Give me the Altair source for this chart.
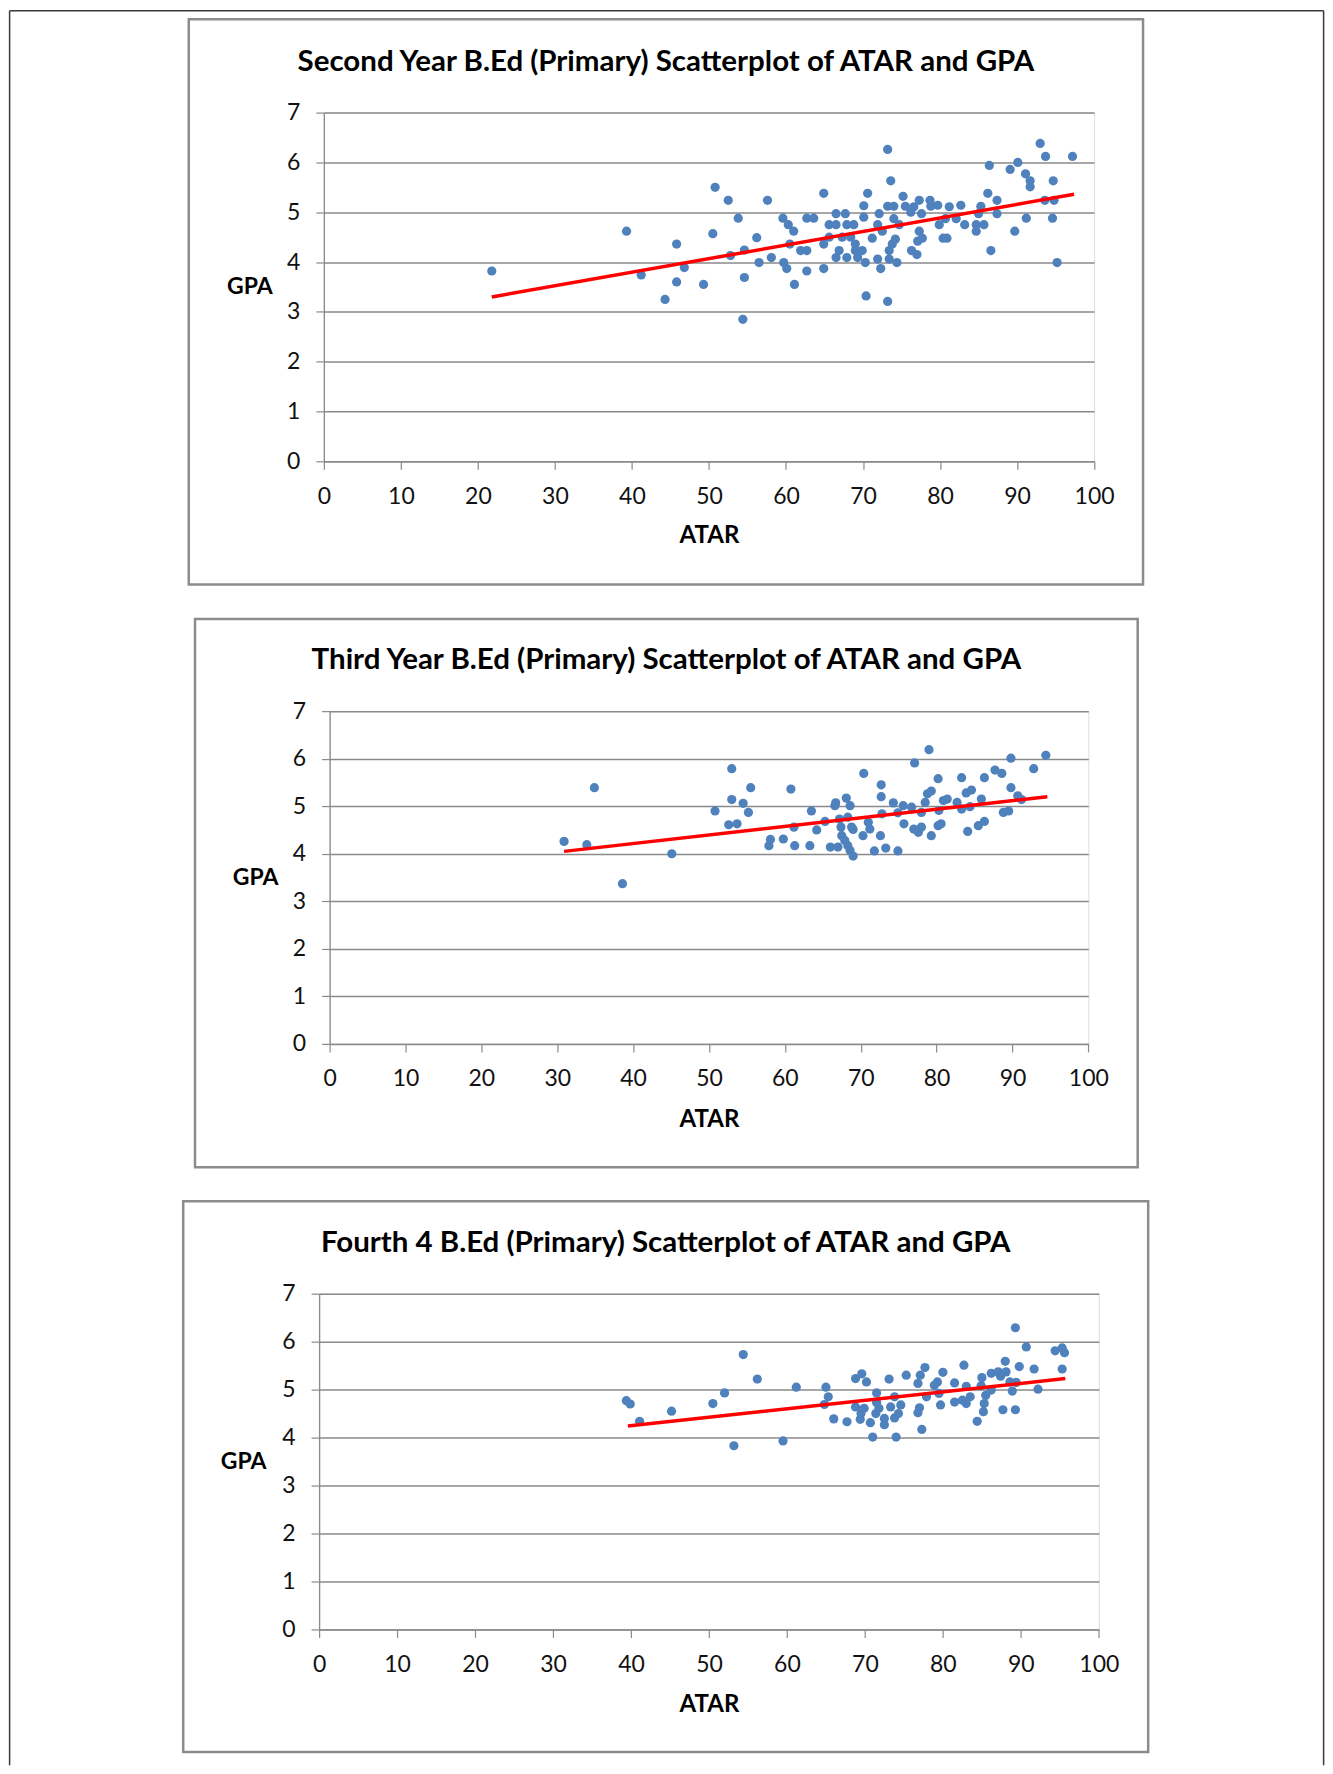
import altair as alt
import pandas as pd

FONT = "Lato"

# ---------------- data ----------------
titles = [
    "Second Year B.Ed (Primary) Scatterplot of ATAR and GPA",
    "Third Year B.Ed (Primary) Scatterplot of ATAR and GPA",
    "Fourth 4 B.Ed (Primary) Scatterplot of ATAR and GPA",
]

x_ticks = list(range(0, 101, 10))
y_ticks = list(range(0, 8))

# Panel 1 – second year
p1_atar = [21.8, 39.3, 41.2, 45.8, 46.8, 45.8, 44.3, 49.3, 50.5, 50.8,
           52.5, 52.8, 53.8, 54.6, 54.6, 54.4, 56.2, 56.5, 57.6, 58.1,
           59.6, 60.3, 61.0, 59.7, 60.1, 61.1, 60.5, 61.9, 62.7, 62.7,
           63.6, 62.7, 64.9, 64.9, 64.9, 65.6, 65.6, 66.5, 66.5, 66.5,
           66.9, 67.3, 67.7, 67.9, 67.9, 68.8, 68.4, 69.0, 69.0, 69.9,
           69.3, 70.3, 70.1, 70.1, 70.6, 70.4, 71.2, 71.9, 72.1, 71.9,
           72.3, 72.5, 73.2, 73.2, 73.6, 73.2, 73.4, 73.4, 73.8, 74.2,
           74.0, 74.0, 74.4, 74.7, 75.2, 75.5, 76.2, 76.6, 77.3, 77.6,
           77.3, 77.7, 77.1, 76.3, 77.0, 78.7, 78.8, 79.7, 79.9, 80.4,
           80.9, 80.7, 81.2, 82.1, 82.7, 83.2, 84.7, 84.7, 85.3, 85.0,
           85.7, 86.2, 86.4, 86.6, 87.4, 87.4, 89.1, 90.1, 89.7, 91.1,
           91.7, 91.7, 91.2, 93.0, 93.7, 94.7, 93.6, 94.8, 94.6, 95.2,
           97.2]
p1_gpa = [3.82, 4.62, 3.74, 4.36, 3.89, 3.60, 3.25, 3.55, 4.57, 5.50,
          5.24, 4.13, 4.88, 4.24, 3.69, 2.85, 4.49, 3.99, 5.24, 4.09,
          4.88, 4.75, 4.62, 3.99, 3.87, 3.55, 4.36, 4.23, 4.23, 4.88,
          4.88, 3.82, 5.38, 4.36, 3.87, 4.75, 4.50, 4.97, 4.75, 4.09,
          4.23, 4.50, 4.97, 4.75, 4.09, 4.75, 4.50, 4.36, 4.23, 4.23,
          4.09, 3.99, 5.13, 4.90, 5.38, 3.32, 4.48, 4.75, 4.97, 4.06,
          3.87, 4.62, 5.12, 6.26, 5.63, 3.21, 4.23, 4.06, 4.36, 4.46,
          5.12, 4.87, 3.99, 4.75, 5.32, 5.12, 5.00, 5.11, 5.24, 4.97,
          4.62, 4.48, 4.42, 4.23, 4.15, 5.24, 5.12, 5.14, 4.75, 4.48,
          4.48, 4.87, 5.11, 4.87, 5.14, 4.75, 4.75, 4.62, 5.12, 4.97,
          4.75, 5.38, 5.94, 4.23, 5.24, 4.97, 5.86, 6.00, 4.62, 5.77,
          5.63, 5.51, 4.88, 6.38, 6.12, 5.63, 5.24, 5.24, 4.88, 3.99,
          6.12]
p1_trend_atar = [21.8, 97.4]
p1_trend_gpa = [3.30, 5.36]

# Panel 2 – third year
p2_atar = [30.9, 33.9, 34.9, 38.6, 45.1, 50.8, 53.0, 53.0, 52.6, 53.7,
           54.5, 55.5, 55.2, 57.9, 58.1, 59.8, 60.8, 61.2, 61.3, 63.5,
           64.2, 63.3, 65.3, 66.0, 66.6, 66.7, 67.0, 67.2, 67.4, 67.5,
           68.1, 68.6, 68.3, 68.8, 69.0, 67.9, 68.3, 68.6, 69.0, 70.4,
           70.3, 71.0, 71.2, 71.8, 72.6, 72.7, 72.7, 72.8, 73.3, 74.3,
           74.9, 74.9, 75.6, 75.7, 76.7, 77.1, 77.0, 77.6, 78.0, 78.0,
           78.5, 78.8, 79.0, 79.3, 79.3, 80.2, 80.3, 80.2, 80.6, 80.9,
           81.4, 82.7, 83.3, 83.3, 84.1, 83.9, 84.6, 84.4, 85.5, 86.3,
           85.9, 86.3, 87.7, 88.6, 88.8, 89.5, 89.8, 89.8, 90.7, 91.2,
           92.8, 94.4]
p2_gpa = [4.26, 4.19, 5.39, 3.37, 4.00, 4.90, 5.79, 5.14, 4.61, 4.63,
          5.06, 5.39, 4.87, 4.17, 4.30, 4.31, 5.36, 4.56, 4.17, 4.90,
          4.50, 4.17, 4.68, 4.14, 5.01, 5.07, 4.14, 4.73, 4.56, 4.38,
          5.17, 5.01, 4.77, 4.56, 4.51, 4.28, 4.17, 4.07, 3.95, 5.69,
          4.38, 4.66, 4.52, 4.06, 4.38, 5.45, 5.20, 4.84, 4.12, 5.07,
          4.86, 4.06, 5.01, 4.63, 4.98, 5.91, 4.52, 4.45, 4.87, 4.56,
          5.08, 5.26, 6.19, 5.32, 4.38, 5.58, 4.91, 4.59, 4.63, 5.12,
          5.15, 5.08, 5.60, 4.94, 4.47, 5.28, 5.34, 4.99, 4.59, 4.68,
          5.15, 5.60, 5.76, 5.69, 4.87, 4.90, 6.01, 5.39, 5.22, 5.14,
          5.79, 6.07]
p2_trend_atar = [30.9, 94.6]
p2_trend_gpa = [4.05, 5.20]

# Panel 3 – fourth year
p3_atar = [39.4, 39.9, 41.1, 45.2, 50.5, 52.0, 54.4, 53.2, 56.2, 59.5,
           61.2, 65.0, 65.3, 64.8, 66.0, 67.7, 68.8, 69.6, 70.2, 68.8,
           69.5, 69.4, 69.9, 70.7, 71.0, 71.5, 71.5, 71.4, 71.8, 72.5,
           72.5, 73.1, 73.3, 73.8, 74.0, 73.8, 74.3, 74.6, 75.3, 76.8,
           77.1, 77.7, 77.0, 76.8, 77.3, 77.9, 78.9, 79.3, 79.5, 79.7,
           80.0, 81.5, 81.5, 82.5, 82.7, 83.0, 83.0, 83.5, 84.4, 84.9,
           85.0, 85.3, 85.2, 85.5, 86.2, 86.2, 87.1, 87.4, 88.0, 88.1,
           87.7, 88.6, 88.9, 89.3, 89.3, 89.4, 89.8, 90.7, 91.7, 92.2,
           94.4, 95.3, 95.6, 95.3]
p3_gpa = [4.77, 4.70, 4.34, 4.55, 4.71, 4.93, 5.73, 3.83, 5.22, 3.93,
          5.05, 5.05, 4.85, 4.69, 4.39, 4.33, 5.23, 5.33, 5.16, 4.64,
          4.50, 4.38, 4.61, 4.31, 4.01, 4.93, 4.73, 4.50, 4.61, 4.40,
          4.27, 5.22, 4.64, 4.85, 4.01, 4.41, 4.50, 4.68, 5.30, 5.13,
          5.30, 5.46, 4.62, 4.52, 4.17, 4.85, 5.09, 5.16, 4.92, 4.68,
          5.36, 5.14, 4.74, 4.78, 5.51, 5.07, 4.71, 4.85, 4.34, 5.08,
          5.25, 4.71, 4.54, 4.88, 5.34, 4.99, 5.37, 5.28, 5.59, 5.37,
          4.58, 5.16, 4.97, 4.58, 6.29, 5.15, 5.48, 5.89, 5.43, 5.01,
          5.81, 5.87, 5.77, 5.43]
p3_trend_atar = [39.6, 95.7]
p3_trend_gpa = [4.24, 5.23]

# ---------------- styling ----------------
GRID = "#8a8a8a"
DOT = "#4f81bd"
BOX = "#8c8c8c"


def panel(title, atar, gpa, t_atar, t_gpa, w, h, box, title_xy, gpa_x, atar_y,
          frame=None):
    pts = pd.DataFrame({"ATAR": atar, "GPA": gpa})
    trend = pd.DataFrame({"ATAR": t_atar, "GPA": t_gpa})
    one = pd.DataFrame({"title": [title]})

    x_enc = alt.X(
        "ATAR:Q",
        scale=alt.Scale(domain=[0, 100], nice=False),
        axis=alt.Axis(
            title="ATAR", values=x_ticks, grid=False, domain=True,
            domainColor=GRID, domainWidth=1.3, ticks=True, tickSize=8,
            tickColor=GRID, tickWidth=1.2, labelFont=FONT, labelFontSize=23,
            labelColor="#111111", labelPadding=27, labelBaseline="middle",
            labelFlush=False, labelOverlap=False, titleFont=FONT,
            titleFontSize=24, titleFontWeight="bold", titleColor="#000000",
            titleBaseline="middle", titleY=atar_y, titleX=w / 2,
        ),
    )
    y_enc = alt.Y(
        "GPA:Q",
        scale=alt.Scale(domain=[0, 7], nice=False),
        axis=alt.Axis(
            title="GPA", values=y_ticks, grid=True, gridColor=GRID,
            gridWidth=1.5, domain=True, domainColor=GRID, domainWidth=1.3,
            ticks=True, tickSize=8, tickColor=GRID, tickWidth=1.2,
            labelFont=FONT, labelFontSize=23, labelColor="#111111",
            labelPadding=16, labelFlush=False, labelOverlap=False,
            titleFont=FONT, titleFontSize=23, titleFontWeight="bold",
            titleColor="#000000", titleAngle=0, titleAlign="center",
            titleBaseline="middle", titleX=gpa_x, titleY=h / 2,
        ),
    )

    layers = []
    if frame is not None:
        fl, ft, fr, fb = frame
        fdat = pd.DataFrame({"k": [0]})
        layers.append(alt.Chart(fdat).mark_rule(color="#3a3a3a", strokeWidth=1.5).encode(
            x=alt.value(fl), y=alt.value(ft), y2=alt.value(fb)))
        layers.append(alt.Chart(fdat).mark_rule(color="#3a3a3a", strokeWidth=1.5).encode(
            x=alt.value(fr), y=alt.value(ft), y2=alt.value(fb)))
        layers.append(alt.Chart(fdat).mark_rule(color="#3a3a3a", strokeWidth=1.5).encode(
            x=alt.value(fl), x2=alt.value(fr), y=alt.value(ft)))

    bl, bt, br, bb = box
    layers.append(alt.Chart(one).mark_rect(filled=False, stroke=BOX, strokeWidth=2.5).encode(
        x=alt.value(bl), x2=alt.value(br), y=alt.value(bt), y2=alt.value(bb)))
    layers.append(alt.Chart(pts).mark_circle(size=85, opacity=1, color=DOT).encode(
        x=x_enc, y=y_enc))
    layers.append(alt.Chart(trend).mark_line(color="#ff0000", strokeWidth=3.5).encode(
        x=x_enc, y=y_enc))
    layers.append(alt.Chart(one).mark_text(
        font=FONT, fontSize=29.5, fontWeight="bold", color="#000000",
        align="center", baseline="middle").encode(
        x=alt.value(title_xy[0]), y=alt.value(title_xy[1]), text="title:N"))

    return alt.layer(*layers).properties(width=w, height=h)


c1 = panel(titles[0], p1_atar, p1_gpa, p1_trend_atar, p1_trend_gpa,
           770.8, 349, (-135.2, -93.3, 819.8, 472.3), (342.3, -51), -74.5, 74,
           frame=(-314.5, -102, 1000.5, 1654))
c2 = panel(titles[1], p2_atar, p2_gpa, p2_trend_atar, p2_trend_gpa,
           759.3, 333, (-134.7, -92.3, 808.7, 456.5), (337, -51.5), -74.5, 76)
c3 = panel(titles[2], p3_atar, p3_gpa, p3_trend_atar, p3_trend_gpa,
           780.3, 336, (-136, -92.5, 829.7, 458.7), (346.85, -51), -76, 75)

chart = alt.vconcat(c1, c2, c3, spacing=250, center=True, bounds="flush").properties(
    padding=0
).configure_view(stroke="transparent").configure(background="#ffffff")

chart.save("out.html", embed_options={"renderer": "svg", "actions": False})
